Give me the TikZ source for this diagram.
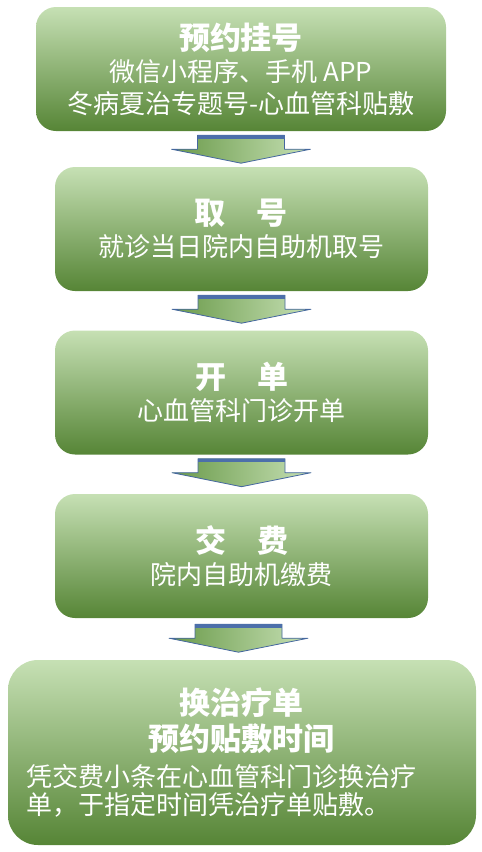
\documentclass[tikz,border=0pt]{standalone}
\usepackage{fontspec}
\usepackage{xcolor}
\setmainfont{Noto Sans CJK SC}
\usetikzlibrary{positioning, calc}
\XeTeXlinebreaklocale "zh"
\XeTeXlinebreakskip=0pt plus 1fil
\definecolor{StepTop}{HTML}{C6E0B4}
\definecolor{StepMid}{HTML}{A6C98F}
\definecolor{StepBottom}{HTML}{568536}
\definecolor{ArrowDark}{HTML}{6A9A4A}
\definecolor{ArrowLight}{HTML}{C6E0B4}
\definecolor{ArrowEdge}{HTML}{45679F}
\definecolor{ArrowBand}{HTML}{4C6FAA}
\tikzset{
    % Node styles - rounded green panels
    stepbox/.style={
        rectangle,
        rounded corners=20pt,
        top color=StepTop,
        middle color=StepMid,
        bottom color=StepBottom,
        draw=none,
        minimum width=373pt,
        minimum height=124pt,
        inner sep=0pt,
        align=center,
        text=white,
        font=\fontsize{26}{32}\selectfont
    },
    steptitle/.style={
        font=\fontsize{31}{32}\selectfont\bfseries
    },
    % Arrow style - block arrow between panels
    flowarrow/.pic={
        \shade[left color=ArrowDark, right color=ArrowLight, draw=ArrowEdge, line width=0.8pt, line join=round]
            (-43.5,0) -- (43.5,0) -- (43.5,14) -- (69.5,14) -- (0,28) -- (-69.5,14) -- (-43.5,14) -- cycle;
        \fill[ArrowBand] (-43.5,0) rectangle (43.5,3.5);
    }
}
\newcommand{\titletext}[1]{{\fontsize{31}{32}\selectfont\bfseries #1}}
\begin{document}
\begin{tikzpicture}[x=1pt, y=-1pt]
    \useasboundingbox (0,0) rectangle (482,852);

    % Steps
    \node[stepbox, minimum width=410pt] (book) at (241,69)
        {\titletext{预约挂号}\\微信小程序、手机 APP\\冬病夏治专题号-心血管科贴敷};
    \node[stepbox] (ticket) at (241.5,229)
        {\titletext{取　号}\\就诊当日院内自助机取号};
    \node[stepbox] (order) at (241.5,392.5)
        {\titletext{开　单}\\心血管科门诊开单};
    \node[stepbox] (pay) at (241.5,556)
        {\titletext{交　费}\\院内自助机缴费};
    \node[stepbox, minimum width=468pt, minimum height=185pt, rounded corners=30pt,
          font=\fontsize{26}{28}\selectfont] (treat) at (242,752.5)
        {\titletext{换治疗单}\\[6pt]\titletext{预约贴敷时间}\\[8pt]
         \makebox[430pt][s]{凭交费小条在心血管科门诊换治疗}\\
         \makebox[430pt][l]{单，于指定时间凭治疗单贴敷。}};

    % Arrows
    \pic at ([yshift=-4pt]book.south) {flowarrow};
    \pic at ([yshift=-4pt]ticket.south) {flowarrow};
    \pic at ([yshift=-4pt]order.south) {flowarrow};
    \pic at ([xshift=-3pt,yshift=-6pt]pay.south) {flowarrow};
\end{tikzpicture}
\end{document}
